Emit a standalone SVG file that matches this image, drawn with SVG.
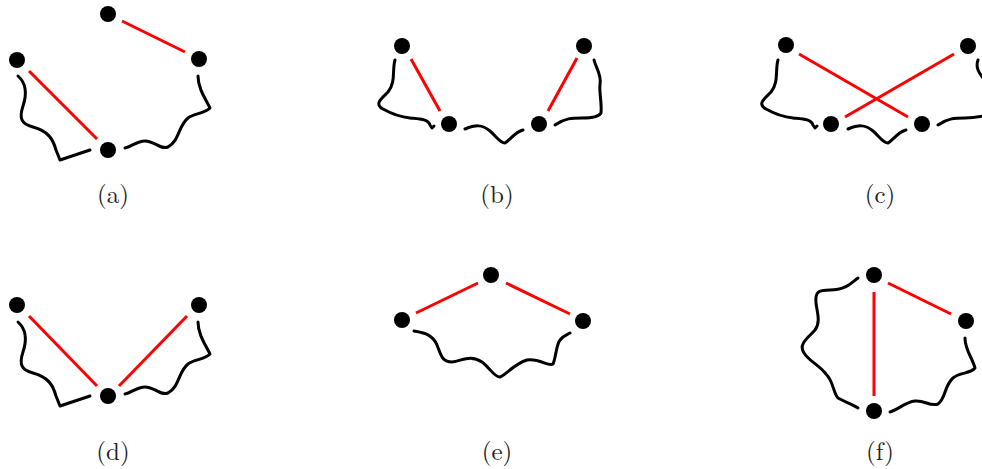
<svg xmlns="http://www.w3.org/2000/svg" width="982" height="469" viewBox="0 0 982 469">
<style>
.n{fill:#000}
.r{stroke:#ff0000;stroke-width:3;fill:none}
.w{stroke:#000;stroke-width:3;fill:none;stroke-linecap:round;stroke-linejoin:round}
.t{font-family:"Latin Modern Roman","Liberation Serif",serif;font-size:25px;text-anchor:middle;fill:#222}
</style>
<rect width="982" height="469" fill="#fff"/>
<g id="connectors">
<!-- (a) -->
<path class="r" d="M122,21 L185,52"/>
<path class="r" d="M29,71 L97,139"/>
<path class="w" d="M18,76 C27,84 27,94 23,106 C19,118 21,124 33,127 C48,131 53,139 56,150 L60,160 L90,150"/>
<path class="w" d="M198,76 C198,88 205,98 210,108 C204,114 195,113 188,118 C178,126 180,140 168,147 C160,150 155,141 145,141 C137,141 131,147 125,148"/>
<!-- (b) -->
<path class="r" d="M411,59 L440,111"/>
<path class="r" d="M577,58 L548,111"/>
<path class="w" d="M395,60 C392,70 396,82 388,92 C381,99 374,104 383,109 C392,114 400,117 410,118 C420,119 428,119 430,125 L432,128 L434,126"/>
<path class="w" d="M465,129 C475,125 482,124 490,131 C496,136 500,143 505,143 C510,140 515,132 523,130"/>
<path class="w" d="M555,125 C565,118 572,118 582,118 C592,118 599,117 601,113 C602,103 599,92 600,85 C602,75 596,68 594,60"/>
<!-- (c) -->
<path class="r" d="M799,54 L908,117"/>
<path class="r" d="M954,54 L845,117"/>
<path class="w" d="M778,60 C775,70 779,82 771,92 C764,99 757,104 766,109 C775,114 783,117 793,118 C803,119 811,119 813,125 L815,128 L817,126"/>
<path class="w" d="M848,129 C858,125 865,124 873,131 C879,136 883,143 888,143 C893,140 898,132 906,130"/>
<path class="w" d="M938,125 C948,118 955,118 965,118 C972,118 978,117 983,116"/>
<path class="w" d="M978,60 C975,68 980,74 983,78"/>
<!-- (d) -->
<path class="r" d="M29,316 L97,386"/>
<path class="r" d="M187,316 L119,386"/>
<path class="w" d="M18,322 C27,330 27,340 23,352 C19,364 21,370 33,373 C48,377 53,385 56,396 L60,406 L90,396"/>
<path class="w" d="M198,322 C198,334 205,344 210,354 C204,360 195,359 188,364 C178,372 180,386 168,393 C160,396 155,387 145,387 C137,387 131,393 125,394"/>
<!-- (e) -->
<path class="r" d="M416,313 L478,283"/>
<path class="r" d="M506,283 L570,314"/>
<path class="w" d="M414,331 C424,333 432,334 437,345 C441,355 442,362 452,362 C462,361 470,354 482,362 C490,368 494,377 500,377 C507,374 514,364 527,360 C540,358 548,367 553,364 C556,358 556,345 560,340 C563,336 566,335 570,333"/>
<!-- (f) -->
<path class="r" d="M874,292 L874,396"/>
<path class="r" d="M888,283 L951,314"/>
<path class="w" d="M858,278 C850,284 845,290 830,290 C818,290 815,292 816,303 C817,312 821,322 815,330 C808,338 798,344 804,353 C810,362 818,364 826,374 C834,382 833,393 838,398 C845,402 852,404 858,408"/>
<path class="w" d="M965,338 C965,350 972,357 975,368 C970,374 960,372 953,378 C944,386 946,398 938,404 C930,407 925,400 915,401 C905,402 898,410 890,412"/>
</g>
<g id="a"><circle class="n" cx="108" cy="14" r="8"/><circle class="n" cx="17" cy="60" r="8"/><circle class="n" cx="199" cy="59" r="8"/><circle class="n" cx="108" cy="150" r="8"/><text class="t" x="113" y="203">(a)</text></g>
<g id="b"><circle class="n" cx="402" cy="46" r="8"/><circle class="n" cx="449" cy="124" r="8"/><circle class="n" cx="539" cy="124" r="8"/><circle class="n" cx="584" cy="46" r="8"/><text class="t" x="497" y="203">(b)</text></g>
<g id="c"><circle class="n" cx="786" cy="45" r="8"/><circle class="n" cx="831" cy="124" r="8"/><circle class="n" cx="922" cy="124" r="8"/><circle class="n" cx="968" cy="46" r="8"/><text class="t" x="880" y="203">(c)</text></g>
<g id="d"><circle class="n" cx="17" cy="305" r="8"/><circle class="n" cx="199" cy="305" r="8"/><circle class="n" cx="108" cy="396" r="8"/><text class="t" x="113" y="460">(d)</text></g>
<g id="e"><circle class="n" cx="402" cy="320" r="8"/><circle class="n" cx="491" cy="275" r="8"/><circle class="n" cx="583" cy="321" r="8"/><text class="t" x="497" y="460">(e)</text></g>
<g id="f"><circle class="n" cx="874" cy="275" r="8"/><circle class="n" cx="966" cy="321" r="8"/><circle class="n" cx="874" cy="411" r="8"/><text class="t" x="880" y="460">(f)</text></g>
</svg>
